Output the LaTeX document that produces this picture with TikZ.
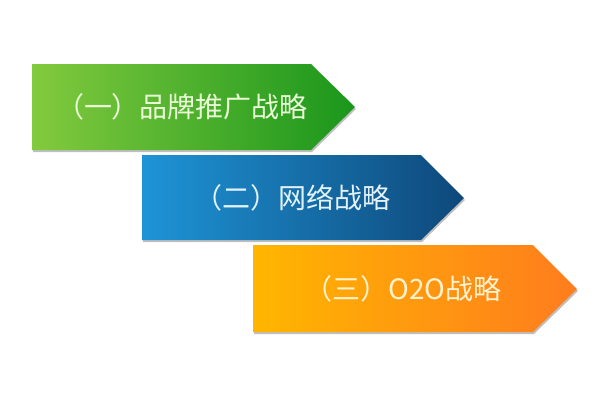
\documentclass[tikz,border=0pt]{standalone}
\usepackage{fontspec}
\setmainfont{Noto Sans CJK SC}
\usetikzlibrary{shadows}
\definecolor{gL}{RGB}{130,202,62}
\definecolor{gR}{RGB}{26,150,28}
\definecolor{bL}{RGB}{30,148,214}
\definecolor{bR}{RGB}{14,72,122}
\definecolor{oL}{RGB}{255,182,0}
\definecolor{oR}{RGB}{255,124,30}
\tikzset{
  arrowshape/.style={drop shadow={shadow xshift=1pt, shadow yshift=-2pt, opacity=0.25, fill=black}},
  lbl/.style={font=\fontsize{28}{32}\selectfont, inner sep=0pt, anchor=center}
}
\begin{document}
\begin{tikzpicture}[x=1pt,y=-1pt]
\useasboundingbox[fill=white] (0,0) rectangle (600,400);
% green
\path[arrowshape, left color=gL, right color=gR]
  (32,64) -- (311,64) -- (355,107) -- (311,150) -- (32,150) -- cycle;
% blue
\path[arrowshape, left color=bL, right color=bR]
  (142,155) -- (421,155) -- (464,198) -- (421,240) -- (142,240) -- cycle;
% orange
\path[arrowshape, left color=oL, right color=oR]
  (253,245) -- (533,245) -- (577,289) -- (533,332) -- (253,332) -- cycle;
\node[lbl, text={rgb,255:red,232;green,250;blue,214}] (t1) at (182,107) {（一）品牌推广战略};
\node[lbl, text={rgb,255:red,226;green,242;blue,252}] (t2) at (292,198) {（二）网络战略};
\node[lbl, text={rgb,255:red,255;green,242;blue,205}] (t3) at (403,289) {（三）O2O战略};
\end{tikzpicture}
\end{document}
